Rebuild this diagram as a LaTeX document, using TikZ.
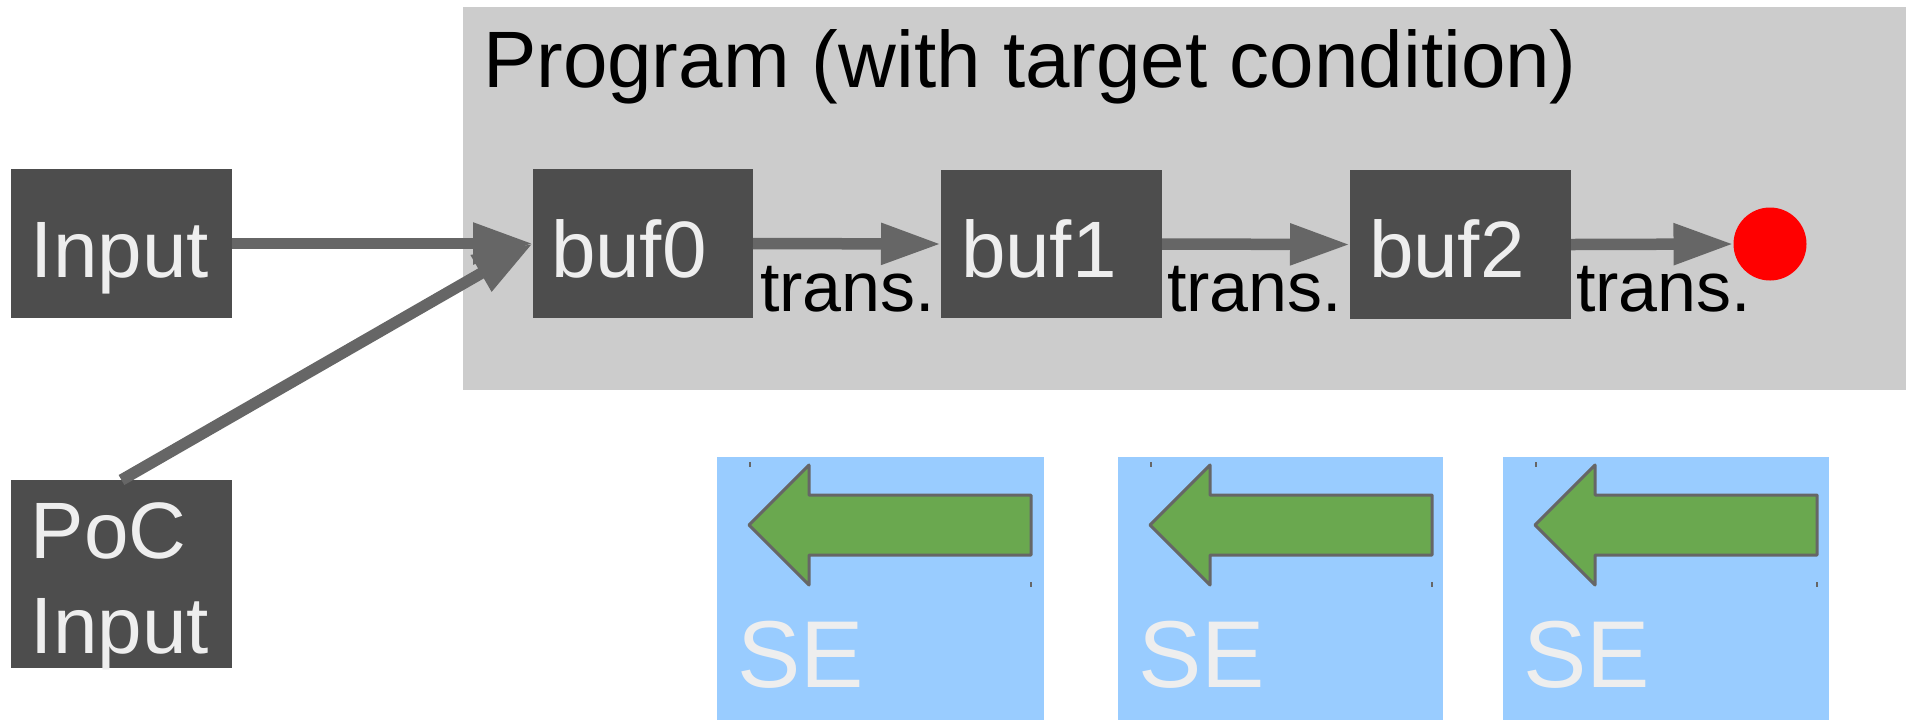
\documentclass[tikz,border=0pt]{standalone}
\usepackage{fontspec}
\setmainfont{Liberation Sans}
\usetikzlibrary{arrows.meta}

\definecolor{boxgray}{HTML}{4D4D4D}
\definecolor{lighttext}{HTML}{EEEEEE}
\definecolor{arrowgray}{HTML}{666666}
\definecolor{panelgray}{HTML}{CCCCCC}
\definecolor{seblue}{HTML}{99CCFF}
\definecolor{segreen}{HTML}{6AA84F}
\definecolor{targetred}{HTML}{FF0000}

\begin{document}
\begin{tikzpicture}[
  x=0.5pt, y=-0.5pt,
  darkbox/.style={fill=boxgray, inner sep=0pt, outer sep=0pt, anchor=north west},
  boxlabel/.style={anchor=base west, inner sep=0pt, outer sep=0pt, text=lighttext,
    font=\fontsize{40pt}{47.5pt}\selectfont},
  translabel/.style={anchor=base west, inner sep=0pt, outer sep=0pt, text=black,
    font=\fontsize{35pt}{42pt}\selectfont},
  titlelabel/.style={anchor=base west, inner sep=0pt, outer sep=0pt, text=black,
    font=\fontsize{40pt}{48pt}\selectfont},
  flow/.style={draw=arrowgray, line width=5.75pt,
    -{Triangle[length=30pt, width=19.5pt]}},
  sebox/.style={fill=seblue, inner sep=0pt, outer sep=0pt, anchor=north west,
    minimum height=131.5pt},
  selabel/.style={anchor=base west, inner sep=0pt, outer sep=0pt, text=lighttext,
    font=\fontsize{47.5pt}{57pt}\selectfont},
  backarrow/.style={fill=segreen, draw=arrowgray, line width=1.5pt, line join=round},
  tick/.style={draw=arrowgray, line width=0.6pt}
]
\useasboundingbox (0,0) rectangle (1911,720);

% program panel
\node[fill=panelgray, inner sep=0pt, outer sep=0pt, anchor=north west,
      minimum width=721.5pt, minimum height=191.5pt] (program) at (463,7) {};
\node[titlelabel] (title) at (483,87) {Program (with target condition)};

% inputs
\node[darkbox, minimum width=110.5pt, minimum height=74.5pt] (input) at (11,169) {};
\node[boxlabel] (inputtxt) at (31,277) {Input};
\node[darkbox, minimum width=110.5pt, minimum height=94pt] (poc) at (11,480) {};
\node[boxlabel] (poctxt) at (31,558) {PoC};
\node[boxlabel] (poctxt2) at (31,653) {Input};

% buffers
\node[darkbox, minimum width=110pt, minimum height=74.5pt] (buf0) at (533,169) {};
\node[darkbox, minimum width=110.5pt, minimum height=74pt] (buf1) at (941,170) {};
\node[darkbox, minimum width=110.5pt, minimum height=74.5pt] (buf2) at (1350,170) {};
\node[boxlabel] (buf0txt) at (551,277) {buf0};
\node[boxlabel] (buf1txt) at (961,277) {buf1};
\node[boxlabel] (buf2txt) at (1369,277) {buf2};

% target condition
\node[circle, fill=targetred, inner sep=0pt, outer sep=0pt, minimum size=36.5pt]
  (target) at (1770,244) {};

% transitions
\draw[flow] (input.east) -- (buf0.west);
\draw[flow] (poc.north) -- (buf0.west);
\draw[flow] (buf0.east) -- (buf1.west);
\draw[flow] (buf1.east) -- (buf2.west);
\draw[flow] (buf2.east) -- (target.west);
\node[translabel] (t0) at (760,311) {trans.};
\node[translabel] (t1) at (1167,311) {trans.};
\node[translabel] (t2) at (1576,311) {trans.};

% symbolic execution steps
\foreach \n/\L/\w in {1/717/163.5, 2/1118/162.5, 3/1503/163} {
  \node[sebox, minimum width=\w pt] (se\n) at (\L,457) {};
  \draw[backarrow] (\L+32,525) -- (\L+92,465) -- (\L+92,495) -- (\L+314,495)
    -- (\L+314,555) -- (\L+92,555) -- (\L+92,585) -- cycle;
  \draw[tick] (\L+33,462) -- (\L+33,467);
  \draw[tick] (\L+314,582) -- (\L+314,587);
  \node[selabel] (se\n txt) at (\L+20,687) {SE};
}
\end{tikzpicture}
\end{document}
